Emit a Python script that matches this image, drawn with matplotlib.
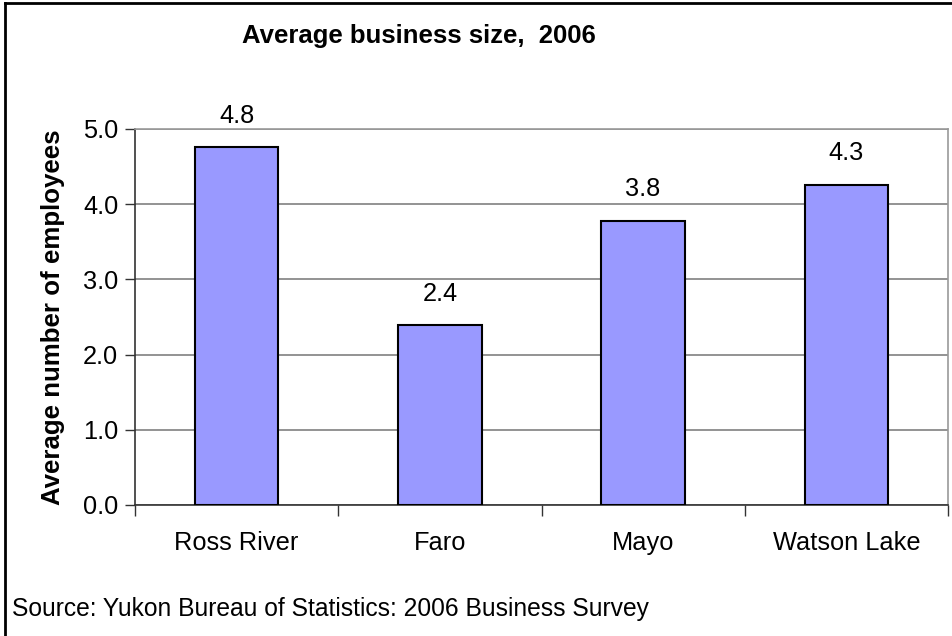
import numpy as np
import matplotlib
matplotlib.use('Agg')
import matplotlib.pyplot as plt
from matplotlib.lines import Line2D

# Chart data
communities = ['Ross River', 'Faro', 'Mayo', 'Watson Lake']
avg_size = [4.76, 2.39, 3.78, 4.26]
y_ticks = [0.0, 1.0, 2.0, 3.0, 4.0, 5.0]

plt.rcParams['font.family'] = ['Liberation Sans', 'DejaVu Sans']

fig = plt.figure(figsize=(9.52, 6.36), dpi=100)
ax = fig.add_axes([135 / 952, 131 / 636, 813 / 952, 376 / 636])

x = np.arange(len(communities))
bars = ax.bar(x, avg_size, width=0.41, color='#9999FF', edgecolor='black',
              linewidth=1.5, zorder=3)

# Value labels above the bars
for b, v in zip(bars, avg_size):
    ax.annotate('%.1f' % v, xy=(b.get_x() + b.get_width() / 2, v),
                xytext=(0, 14), textcoords='offset points',
                ha='center', va='bottom', fontsize=18.3)

ax.set_xlim(-0.5, len(communities) - 0.5)
ax.set_ylim(0, 5)
ax.set_yticks(y_ticks)
ax.set_yticklabels(['%.1f' % t for t in y_ticks], fontsize=18.3)
ax.set_xticks(x)
ax.set_xticklabels(communities, fontsize=18.3)
ax.set_xticks(np.arange(-0.5, len(communities), 1.0), minor=True)
ax.tick_params(axis='x', which='major', length=0, pad=19)
ax.tick_params(axis='x', which='minor', length=8, width=1, color='#333333')
ax.tick_params(axis='y', length=7, width=1, color='#333333', pad=5)

ax.grid(axis='y', color='#808080', linewidth=1.2, zorder=0)
ax.spines['left'].set_color('#333333')
ax.spines['bottom'].set_color('#333333')
ax.spines['top'].set_color('#999999')
ax.spines['right'].set_color('#999999')
for s in ax.spines.values():
    s.set_linewidth(1.2)

ax.set_ylabel('Average number of employees', fontsize=18.6, fontweight='bold',
              labelpad=13)

fig.text(0.5 * (243 + 595) / 952, 1 - 36 / 636, 'Average business size,  2006',
         ha='center', va='center', fontsize=18.5, fontweight='bold')
fig.text(12 / 952, 1 - 609 / 636,
         'Source: Yukon Bureau of Statistics: 2006 Business Survey',
         ha='left', va='center', fontsize=17.7)

# Outer chart border (left and top edges visible)
fig.add_artist(Line2D([5 / 952, 5 / 952], [0, 1 - 3 / 636], color='black',
                      linewidth=2, transform=fig.transFigure))
fig.add_artist(Line2D([5 / 952, 1], [1 - 3 / 636, 1 - 3 / 636], color='black',
                      linewidth=2, transform=fig.transFigure))

fig.savefig('out.png', dpi=100, facecolor='white')
